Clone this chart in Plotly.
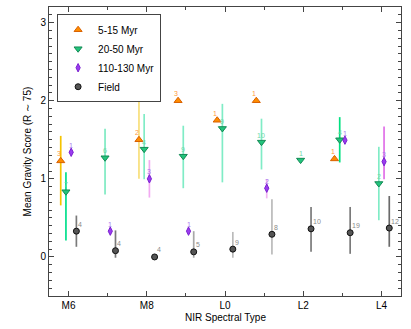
import plotly.graph_objects as go

# spectral type index: 6=M6, 8=M8, 10=L0, 12=L2, 14=L4
tick_vals = [6, 8, 10, 12, 14]
tick_text = ['M6', 'M8', 'L0', 'L2', 'L4']

# 5-15 Myr
spt_a = [6, 8, 9, 10, 11, 13]
score_a = [1.23, 1.50, 2.00, 1.75, 2.00, 1.255]
errhi_a = [0.32, 0.50, 0, 0, 0, 0]
errlo_a = [0.57, 0.50, 0, 0, 0, 0]
n_a = [3, 2, 3, 1, 1, 1]

# 20-50 Myr
spt_b = [6, 7, 8, 9, 10, 11, 12, 13, 14]
score_b = [0.835, 1.27, 1.38, 1.29, 1.645, 1.47, 1.24, 1.50, 0.94]
errhi_b = [0.25, 0.37, 0.45, 0.39, 0.315, 0.30, 0, 0.29, 0.47]
errlo_b = [0.625, 0.47, 0.385, 0.41, 0.69, 0.35, 0, 0.29, 0.47]
n_b = [7, 6, 4, 9, 9, 10, 1, 4, 2]

# 110-130 Myr
spt_c = [6, 7, 8, 9, 11, 13, 14]
score_c = [1.34, 0.33, 1.00, 0.33, 0.88, 1.495, 1.22]
errhi_c = [0, 0, 0.24, 0, 0.115, 0, 0.45]
errlo_c = [0, 0, 0.24, 0, 0.13, 0, 0.225]
n_c = [1, 1, 3, 1, 2, 1, 3]

# Field
spt_d = [6, 7, 8, 9, 10, 11, 12, 13, 14]
score_d = [0.33, 0.08, 0.0, 0.065, 0.10, 0.29, 0.36, 0.31, 0.37]
errhi_d = [0.20, 0.26, 0, 0.265, 0.22, 0.45, 0.28, 0.33, 0.41]
errlo_d = [0.20, 0.09, 0, 0.075, 0.11, 0.26, 0.295, 0.27, 0.24]
n_d = [4, 4, 4, 5, 9, 8, 10, 19, 12]

FONT = 'Liberation Sans, Arial, sans-serif'

fig = go.Figure()
labels = []


def add_group(name, spt, score, hi, lo, n, offset, symbol, color, edge, size,
              textcolor, xanchor, xshift, barcolors):
    xs = [s + offset for s in spt]
    # error bars, one per point so each can have its own shade
    for x, y, h, l, c in zip(xs, score, hi, lo, barcolors):
        if h == 0 and l == 0:
            continue
        fig.add_trace(go.Scatter(
            x=[x], y=[y], mode='markers', marker=dict(opacity=0),
            error_y=dict(type='data', symmetric=False, array=[h], arrayminus=[l],
                         color=c, thickness=1.7, width=0),
            showlegend=False, hoverinfo='skip'))
    fig.add_trace(go.Scatter(
        x=xs, y=score, mode='markers', name=name,
        marker=dict(symbol=symbol, size=size, color=color,
                    line=dict(color=edge, width=1))))
    # number of objects next to each point
    for x, y, k in zip(xs, score, n):
        labels.append(dict(x=x, y=y, text=str(k), showarrow=False,
                           xanchor=xanchor, yanchor='middle',
                           xshift=xshift, yshift=7,
                           font=dict(size=7, color=textcolor, family=FONT)))


add_group('5-15 Myr', spt_a, score_a, errhi_a, errlo_a, n_a, -0.2,
          'triangle-up', '#ff8c00', '#d86000', 7, '#ff9a40', 'center', -2,
          ['#f5c400', '#f8df7a', None, None, None, None])
add_group('20-50 Myr', spt_b, score_b, errhi_b, errlo_b, n_b, -0.067,
          'triangle-down', '#22c47c', '#138a55', 7, '#70d8a8', 'center', 0,
          ['#00e08c', '#7eeac2', '#80ecc6', '#80ecc6', '#80ecc6', '#80ecc6',
           None, '#00e080', '#80ecc6'])
add_group('110-130 Myr', spt_c, score_c, errhi_c, errlo_c, n_c, 0.067,
          'diamond-tall', '#9b3cf0', '#7a20d0', 6, '#a878ee', 'center', 0,
          [None, None, '#f2aaf2', None, '#f2b4f2', None, '#e070e8'])
add_group('Field', spt_d, score_d, errhi_d, errlo_d, n_d, 0.2,
          'circle', '#555555', '#111111', 6, '#8a8a8a', 'left', 0,
          ['#7a7a7a', '#7a7a7a', None, '#a8a8a8', '#bababa', '#bababa',
           '#7a7a7a', '#7a7a7a', '#6a6a6a'])

axis_common = dict(showgrid=False, zeroline=False, showline=True,
                   linecolor='#444444', linewidth=1, mirror='ticks',
                   ticks='inside', tickcolor='#444444', automargin=False,
                   tickfont=dict(size=10, color='black', family=FONT))

fig.update_xaxes(range=[5.5, 14.5], tickvals=tick_vals, ticktext=tick_text,
                 ticklen=5,
                 minor=dict(tickvals=[7, 9, 11, 13], ticks='inside', ticklen=3,
                            tickcolor='#444444'),
                 **axis_common)
fig.update_yaxes(range=[-0.5, 3.2], tickvals=[0, 1, 2, 3], ticklen=5,
                 minor=dict(dtick=0.1, ticks='inside', ticklen=3,
                            tickcolor='#444444'),
                 **axis_common)

# axis titles sit closer to the tick labels than plotly's own titles allow
labels.append(dict(x=0.5, y=-0.073, xref='paper', yref='paper',
                   text='NIR Spectral Type', showarrow=False,
                   xanchor='center', yanchor='middle',
                   font=dict(size=10, color='black', family=FONT)))
labels.append(dict(x=-0.06, y=0.5, xref='paper', yref='paper',
                   text='Mean Gravity Score (R ∼ 75)', showarrow=False,
                   textangle=-90, xanchor='center', yanchor='middle',
                   font=dict(size=10, color='black', family=FONT)))

fig.update_layout(
    width=411, height=329,
    margin=dict(l=49, r=10, t=7, b=33),
    paper_bgcolor='white', plot_bgcolor='white',
    font=dict(family=FONT, size=10, color='black'),
    annotations=labels,
    legend=dict(x=0.023, y=0.975, xanchor='left', yanchor='top',
                bgcolor='white', bordercolor='#444444', borderwidth=1,
                font=dict(size=10, family=FONT), tracegroupgap=0,
                itemwidth=30),
)

# drop the default page margin so the figure sits at the window corner
fig.write_html("out.html", config={'displayModeBar': False},
               post_script="document.body.style.margin='0';")
